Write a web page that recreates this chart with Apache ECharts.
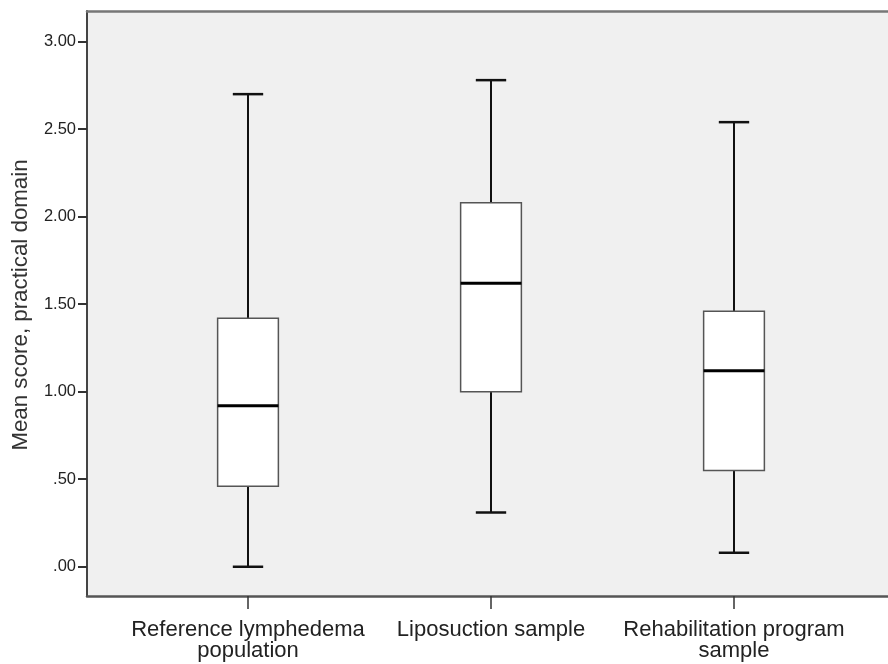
<!DOCTYPE html>
<html>
<head>
<meta charset="utf-8">
<script src="https://cdn.jsdelivr.net/npm/echarts@6/dist/echarts.min.js"></script>
<style>html,body{margin:0;padding:0;background:#fff;}#c{width:888px;height:664px;}</style>
</head>
<body>
<div id="c"></div>
<script>
var categories = ['Reference lymphedema\npopulation', 'Liposuction sample', 'Rehabilitation program\nsample'];
var minVals    = [0.00, 0.31, 0.08];
var q1Vals     = [0.46, 1.00, 0.55];
var medianVals = [0.92, 1.62, 1.12];
var q3Vals     = [1.42, 2.08, 1.46];
var maxVals    = [2.70, 2.78, 2.54];
var yTicks     = [0, 0.5, 1, 1.5, 2, 2.5, 3];
var yTitle     = 'Mean score, practical domain';

var boxData = categories.map(function (c, i) {
  return [i, minVals[i], q1Vals[i], medianVals[i], q3Vals[i], maxVals[i]];
});

var YMIN = -0.167, YMAX = 3.175;
var font = '"Liberation Sans", Arial, sans-serif';

function renderBox(params, api) {
  var idx = api.value(0);
  var pMin = api.coord([idx, api.value(1)]);
  var pQ1 = api.coord([idx, api.value(2)]);
  var pMed = api.coord([idx, api.value(3)]);
  var pQ3 = api.coord([idx, api.value(4)]);
  var pMax = api.coord([idx, api.value(5)]);
  var band = api.size([1, 0])[0];
  var x = pMed[0];
  var bw = band * 0.25 / 2;
  var cw = band * 0.125 / 2;
  var wStyle = { stroke: '#111', lineWidth: 2 };
  return {
    type: 'group',
    children: [
      { type: 'line', shape: { x1: x, y1: pMax[1], x2: x, y2: pQ3[1] }, style: wStyle },
      { type: 'line', shape: { x1: x, y1: pMin[1], x2: x, y2: pQ1[1] }, style: wStyle },
      { type: 'line', shape: { x1: x - cw, y1: pMax[1], x2: x + cw, y2: pMax[1] }, style: { stroke: '#111', lineWidth: 2.5 } },
      { type: 'line', shape: { x1: x - cw, y1: pMin[1], x2: x + cw, y2: pMin[1] }, style: { stroke: '#111', lineWidth: 2.5 } },
      { type: 'rect', shape: { x: x - bw, y: pQ3[1], width: bw * 2, height: pQ1[1] - pQ3[1] },
        style: { fill: '#ffffff', stroke: '#555', lineWidth: 1.5 } },
      { type: 'line', shape: { x1: x - bw, y1: pMed[1], x2: x + bw, y2: pMed[1] }, style: { stroke: '#000', lineWidth: 3 } }
    ]
  };
}

var chart = echarts.init(document.getElementById('c'), null, { renderer: 'canvas' });
chart.setOption({
  animation: false,
  backgroundColor: '#ffffff',
  grid: [
    { left: 126.5, right: 32.5, top: 11, bottom: 68, containLabel: false },
    { left: 87, right: 0, top: 11, bottom: 68, show: true, backgroundColor: '#f0f0f0', borderWidth: 0, containLabel: false }
  ],
  xAxis: [
    {
      type: 'category', gridIndex: 0, data: categories, boundaryGap: true,
      axisLine: { show: false, onZero: false },
      axisTick: { show: true, alignWithLabel: true, length: 13, lineStyle: { color: '#333', width: 1.5 } },
      axisLabel: { color: '#222', fontFamily: font, fontSize: 22, lineHeight: 21, margin: 23, interval: 0 },
      splitLine: { show: false }
    },
    {
      type: 'value', gridIndex: 1, min: 0, max: 1, position: 'bottom',
      axisLine: { show: true, onZero: false, lineStyle: { color: '#555', width: 2.5 } },
      axisTick: { show: false }, axisLabel: { show: false }, splitLine: { show: false }
    },
    {
      type: 'value', gridIndex: 1, min: 0, max: 1, position: 'top',
      axisLine: { show: true, onZero: false, lineStyle: { color: '#777', width: 2.5 } },
      axisTick: { show: false }, axisLabel: { show: false }, splitLine: { show: false }
    }
  ],
  yAxis: [
    {
      type: 'value', gridIndex: 0, min: YMIN, max: YMAX, show: false,
      splitLine: { show: false }
    },
    {
      type: 'value', gridIndex: 1, min: YMIN, max: YMAX, position: 'left',
      axisLine: { show: true, onZero: false, lineStyle: { color: '#444', width: 2 } },
      axisTick: { show: true, length: 9, customValues: yTicks, lineStyle: { color: '#333', width: 2 } },
      axisLabel: {
        show: true, customValues: yTicks, color: '#222', fontFamily: font, fontSize: 16.5, margin: 11,
        formatter: function (v) { return v.toFixed(2).replace(/^0\./, '.'); }
      },
      splitLine: { show: false }
    }
  ],
  graphic: [
    {
      type: 'text', z: 10,
      x: 21, y: 305, rotation: Math.PI / 2,
      style: { text: yTitle, fill: '#333', fontSize: 22.3, fontFamily: font, align: 'center', verticalAlign: 'middle' }
    }
  ],
  series: [
    {
      type: 'custom', xAxisIndex: 0, yAxisIndex: 0, data: boxData, renderItem: renderBox,
      encode: { x: 0, y: [1, 2, 3, 4, 5] }, z: 5
    }
  ]
});
</script>
</body>
</html>
